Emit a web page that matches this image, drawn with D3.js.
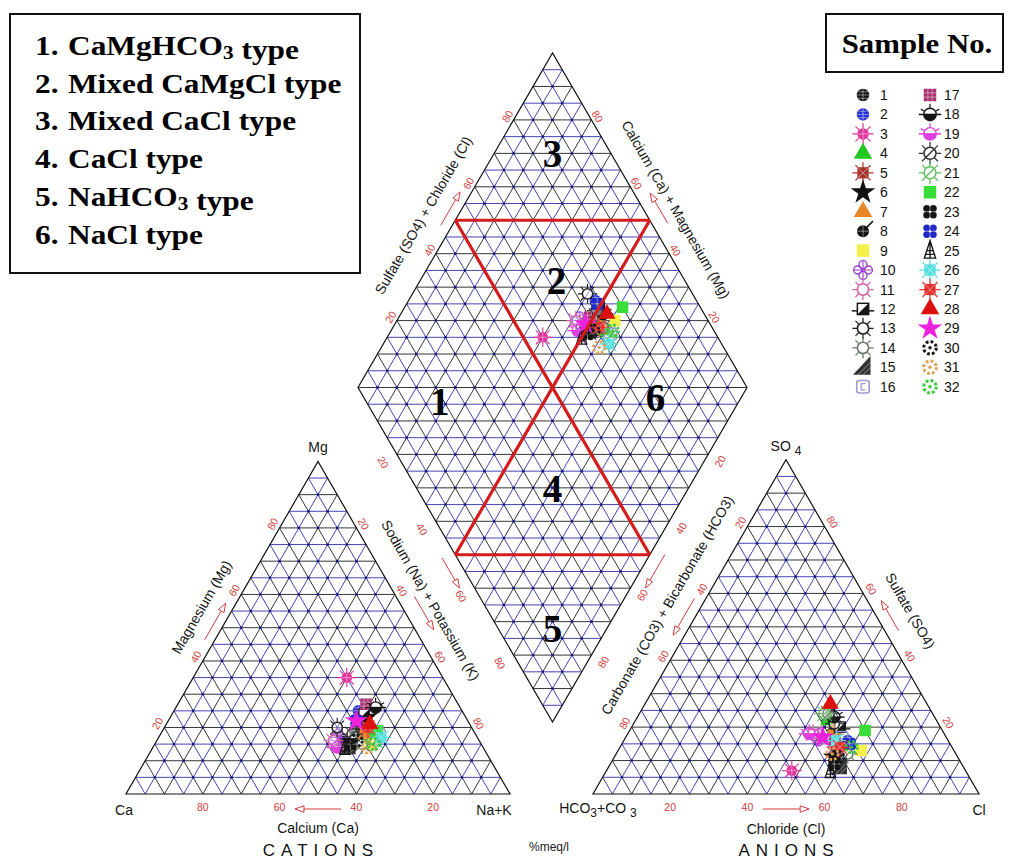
<!DOCTYPE html>
<html lang="en">
<head>
<meta charset="utf-8">
<script src="https://d3js.org/d3.v7.min.js"></script>
<style type="text/css">
body { margin: 0; background: #fff; }
svg { display: block; font-family: "Liberation Sans", Arial, sans-serif; }
.tick { fill: #d23c3c; font-size: 10.5px; }
.title { fill: #151515; font-size: 14px; }
.corner { fill: #151515; font-size: 14px; }
.frame { fill: none; stroke: #111; stroke-width: 1.2; }
.zone { fill: none; stroke: #d41c1c; stroke-width: 3.2; }
.zone-num { font-family: "Liberation Serif", "Times New Roman", serif; font-weight: bold; font-size: 39px; fill: #000; }
.box-text { font-family: "Liberation Serif", "Times New Roman", serif; font-weight: bold; font-size: 28px; fill: #000; }
.legend-num { font-size: 14px; fill: #111; }
</style>
</head>
<body>
<svg id="chart" width="1010" height="859"></svg>
<script type="text/javascript">

// ---- data (percent meq/l) ----
var sampleIds = [1,2,3,4,5,6,7,8,9,10,11,12,13,14,15,16,17,18,19,20,21,22,23,24,25,26,27,28,29,30,31,32];
var mgPct  = [19,25,35,17,21,23,18,16,15,17,16,24,20,15,14,18,27,26,14,18,16,19,15,22,14,17,20,21,22,16,14,15];
var nakPct = [50,48,40,55,52,51,53,49,56,47,46,50,45,54,51,57,49,52,48,50,57,56,51,49,50,58,53,53,49,52,56,57];
var so4Pct = [10,16,7,22,14,11,19,9,13,17,18,20,21,12,8,17,15,23,18,24,24,19,9,15,7,16,14,27,17,11,12,14];
var clPct  = [58,58,48,50,56,57,53,59,63,50,48,54,52,60,60,56,55,51,47,49,48,61,58,59,58,55,57,48,51,58,56,60];

var tickValues = [20,40,60,80];
var waterTypes = ["CaMgHCO_3 type", "Mixed CaMgCl type", "Mixed CaCl type", "CaCl type", "NaHCO_3 type", "NaCl type"];
var zoneNames = ["1","2","3","4","5","6"];
// zone boundaries in diamond units [Ca+Mg, SO4+Cl]
var zoneLines = [[[100,50],[50,100]], [[100,50],[0,50]], [[50,100],[50,0]], [[50,0],[0,50]]];

// ---- marker look per sample ----
var markerStyle = [
	["circleCross","#151515"],["circleCross","#2530d0"],["sun","#e0359c"],["triangle","#22c822"],
	["squareRays","#a8352e"],["star","#111"],["triangle","#e8872a"],["circleSlash","#151515"],
	["square","#f4f04a"],["flower","#9a3fd0"],["circleRays","#d862a8"],["squareHalf","#151515"],
	["circleRays","#222"],["circleRays","#667766"],["rightTri","#333"],["openSquare","#9a9ad4"],
	["gridSquare","#a8306e"],["semi","#151515"],["semi","#e040e0"],["circleSlashRays","#333"],
	["circleSlashRays","#5cbf5c"],["square","#39dd39"],["quatrefoil","#151515"],["quatrefoil","#2028c8"],
	["tower","#151515"],["squareRays","#55dede"],["squareRays","#e33030"],["triangle","#dd1010"],
	["star","#ee22dd"],["dashedCircle","#151515"],["dashedCircle","#e0a050"],["dashedCircle","#33cc33"]
];

var svg = d3.select("#chart");
svg.append("rect").attr("width", 1010).attr("height", 859).attr("fill", "#fff");

var c30 = Math.sqrt(3) / 2;

// cation triangle: Ca left, Na+K right, Mg top
var catX = d3.scaleLinear().domain([0,100]).range([126,510]);
var catY = d3.scaleLinear().domain([0,100]).range([794,461.4]);
function catXY(mg, nak) { return [catX(nak + mg / 2), catY(mg)]; }

// anion triangle: HCO3 left, Cl right, SO4 top
var anX = d3.scaleLinear().domain([0,100]).range([593,979]);
var anY = d3.scaleLinear().domain([0,100]).range([794,459.7]);
function anXY(so4, cl) { return [anX(cl + so4 / 2), anY(so4)]; }

// diamond: Ca+Mg and SO4+Cl
var diaX = d3.scaleLinear().domain([-100,100]).range([358,747]);
var diaY = d3.scaleLinear().domain([0,200]).range([722,53]);
function diaXY(cm, sc) { return [diaX(sc - cm), diaY(cm + sc)]; }

// ---- grids ----
function triLines(toXY) {
	var out = [];
	d3.range(5,100,5).forEach(function(k) {
		var major = k % 10 === 0;
		out.push({a: toXY(k,0), b: toXY(k,100-k), major: major});
		out.push({a: toXY(0,k), b: toXY(100-k,k), major: major});
		out.push({a: toXY(0,100-k), b: toXY(100-k,0), major: major});
	});
	return out;
}
function triDots(toXY) {
	var out = [];
	for (var i = 5; i < 100; i += 5)
		for (var j = 5; i + j < 100; j += 5) out.push(toXY(i,j));
	return out;
}
function diaLines() {
	var out = [];
	d3.range(5,100,5).forEach(function(k) {
		var major = k % 10 === 0;
		out.push({a: diaXY(k,0), b: diaXY(k,100), major: major});
		out.push({a: diaXY(0,k), b: diaXY(100,k), major: major});
	});
	d3.range(5,200,5).forEach(function(s) {
		var major = s % 10 === 0;
		if (s <= 100) out.push({a: diaXY(s,0), b: diaXY(0,s), major: major});
		else out.push({a: diaXY(100,s-100), b: diaXY(s-100,100), major: major});
	});
	return out;
}
function diaDots() {
	var out = [];
	for (var i = 5; i < 100; i += 5)
		for (var j = 5; j < 100; j += 5) out.push(diaXY(i,j));
	return out;
}
function drawGrid(lines, dots) {
	var g = svg.append("g");
	g.selectAll("line").data(lines).join("line")
		.attr("x1", function(d) { return d.a[0]; }).attr("y1", function(d) { return d.a[1]; })
		.attr("x2", function(d) { return d.b[0]; }).attr("y2", function(d) { return d.b[1]; })
		.attr("stroke", function(d) { return d.major ? "#1e1e1e" : "#3030aa"; })
		.attr("stroke-width", 0.9);
	g.selectAll("circle").data(dots).join("circle")
		.attr("cx", function(d) { return d[0]; }).attr("cy", function(d) { return d[1]; })
		.attr("r", 1.4).attr("fill", "#1a1a88");
}
drawGrid(triLines(catXY), triDots(catXY));
drawGrid(triLines(anXY), triDots(anXY));
drawGrid(diaLines(), diaDots());

var line = d3.line();
svg.append("path").attr("class","frame").attr("d", line([catXY(0,0), catXY(0,100), catXY(100,0)]) + "Z");
svg.append("path").attr("class","frame").attr("d", line([anXY(0,0), anXY(0,100), anXY(100,0)]) + "Z");
svg.append("path").attr("class","frame").attr("d", line([diaXY(0,0), diaXY(100,0), diaXY(100,100), diaXY(0,100)]) + "Z");

// ---- edges: point at value k, outward normal, text rotation ----
var edges = {
	cBase:  {pt: function(k) { return catXY(0,100-k); }, n: [0,1], rot: 0},
	cLeft:  {pt: function(k) { return catXY(k,0); }, n: [-c30,-0.5], rot: -60},
	cRight: {pt: function(k) { return catXY(100-k,k); }, n: [c30,-0.5], rot: 60},
	aBase:  {pt: function(k) { return anXY(0,k); }, n: [0,1], rot: 0},
	aLeft:  {pt: function(k) { return anXY(100-k,0); }, n: [-c30,-0.5], rot: -60},
	aRight: {pt: function(k) { return anXY(k,100-k); }, n: [c30,-0.5], rot: 60},
	dUL:    {pt: function(k) { return diaXY(100,k); }, n: [-c30,-0.5], rot: -60},
	dUR:    {pt: function(k) { return diaXY(k,100); }, n: [c30,-0.5], rot: 60},
	dLL:    {pt: function(k) { return diaXY(100-k,0); }, n: [-c30,0.5], rot: 60},
	dLR:    {pt: function(k) { return diaXY(0,100-k); }, n: [c30,0.5], rot: -60}
};
function off(edge, k, d) {
	var e = edges[edge], p = e.pt(k);
	return [p[0] + e.n[0] * d, p[1] + e.n[1] * d];
}

// tick labels
var labelOffset = {cBase:13, cLeft:8, cRight:8, aBase:13, aLeft:8, aRight:9, dUL:7, dUR:7, dLL:16, dLR:14};
Object.keys(labelOffset).forEach(function(name) {
	svg.append("g").selectAll("text").data(tickValues).join("text")
		.attr("class","tick")
		.attr("text-anchor","middle").attr("dy","0.35em")
		.attr("transform", function(k) {
			var p = off(name, k, labelOffset[name]);
			return "translate(" + p[0] + "," + p[1] + ") rotate(" + edges[name].rot + ")";
		})
		.text(function(k) { return k; });
});

// arrows
function arrow(p1, p2) {
	var dx = p2[0]-p1[0], dy = p2[1]-p1[1], L = Math.hypot(dx,dy), ux = dx/L, uy = dy/L;
	var hl = 9, hw = 3.2, b = [p2[0]-ux*hl, p2[1]-uy*hl];
	svg.append("line").attr("x1",p1[0]).attr("y1",p1[1]).attr("x2",b[0]).attr("y2",b[1])
		.attr("stroke","#d23c3c").attr("stroke-width",1);
	svg.append("path")
		.attr("d","M"+(b[0]-uy*hw)+","+(b[1]+ux*hw)+"L"+p2[0]+","+p2[1]+"L"+(b[0]+uy*hw)+","+(b[1]-ux*hw)+"Z")
		.attr("fill","#fff").attr("stroke","#d23c3c").attr("stroke-width",1);
}
[["cBase",44,56,15],["cLeft",45,56,9],["cRight",43,53,16],["aBase",44,56,15],["aLeft",43,54,10],
 ["aRight",47,56,12],["dUL",47,57,10],["dUR",47,56,14],["dLL",49,58,13],["dLR",48,58,13]].forEach(function(a) {
	arrow(off(a[0],a[1],a[3]), off(a[0],a[2],a[3]));
});

// edge titles
[["cBase",50,34,"Calcium (Ca)"],["cLeft",52,28,"Magnesium (Mg)"],["cRight",46,28,"Sodium (Na) + Potassium (K)"],
 ["aBase",50,35,"Chloride (Cl)"],["aLeft",48,30,"Carbonate (CO3) + Bicarbonate (HCO3)"],["aRight",50,32,"Sulfate (SO4)"],
 ["dUL",47,30,"Sulfate (SO4) + Chloride (Cl)"],["dUR",49,28,"Calcium (Ca) + Magnesium (Mg)"]].forEach(function(t) {
	var p = off(t[0], t[1], t[2]);
	svg.append("text").attr("class","title").attr("text-anchor","middle").attr("dy","0.35em")
		.attr("transform","translate(" + p[0] + "," + p[1] + ") rotate(" + edges[t[0]].rot + ")")
		.text(t[3]);
});

// corner labels
function corner(p, dx, dy, parts) {
	var t = svg.append("text").attr("class","corner").attr("text-anchor","middle")
		.attr("x", p[0] + dx).attr("y", p[1] + dy);
	parts.forEach(function(s) {
		if (s[0] === "_") t.append("tspan").attr("font-size","12px").attr("dy",4).text(s.slice(1));
		else if (s[0] === "^") t.append("tspan").attr("dy",-4).text(s.slice(1));
		else t.append("tspan").text(s);
	});
}
corner(catXY(100,0), 0, -9, ["Mg"]);
corner(catXY(0,0), -2, 21, ["Ca"]);
corner(catXY(0,100), -16, 21, ["Na+K"]);
corner(anXY(100,0), 0, -9, ["SO ", "_4"]);
corner(anXY(0,0), 5, 19, ["HCO", "_3", "^+CO ", "_3"]);
corner(anXY(0,100), 0, 21, ["Cl"]);

svg.append("text").attr("x", catX(50) + 3).attr("y", 856).attr("text-anchor","middle")
	.attr("font-size","17px").attr("letter-spacing","6px").attr("fill","#111").text("CATIONS");
svg.append("text").attr("x", anX(50) + 3).attr("y", 856).attr("text-anchor","middle")
	.attr("font-size","17px").attr("letter-spacing","6px").attr("fill","#111").text("ANIONS");
svg.append("text").attr("x", 549).attr("y", 851).attr("text-anchor","middle")
	.attr("font-size","12px").attr("fill","#222").text("%meq/l");

// ---- markers ----
function marker(g, shape, col) {
	function rays(r0, r1, n, angles) {
		var a = angles || d3.range(n).map(function(i) { return i * 360 / n; });
		var d = a.map(function(deg) {
			var r = deg * Math.PI / 180;
			return "M" + (r0*Math.cos(r)) + "," + (r0*Math.sin(r)) + "L" + (r1*Math.cos(r)) + "," + (r1*Math.sin(r));
		}).join("");
		g.append("path").attr("d", d).attr("stroke", col).attr("stroke-width", 1).attr("fill","none");
	}
	function hatch(d) {
		g.append("path").attr("d", d).attr("stroke","#fff").attr("stroke-opacity",0.45).attr("stroke-width",0.8).attr("fill","none");
	}
	switch (shape) {
	case "circleCross":
		g.append("circle").attr("r",5).attr("fill",col);
		hatch("M-5,0H5M0,-5V5M-4,-2.6H4M-4,2.6H4");
		break;
	case "sun":
		rays(4.5, 8.5, 8);
		g.append("circle").attr("r",4.6).attr("fill",col);
		hatch("M-4,0H4M0,-4V4");
		break;
	case "triangle":
		g.append("path").attr("d", d3.symbol(d3.symbolTriangle, 95)()).attr("fill",col);
		break;
	case "squareRays":
		rays(4, 8.5, 8);
		g.append("rect").attr("x",-4.5).attr("y",-4.5).attr("width",9).attr("height",9).attr("fill",col);
		hatch("M-4.5,-4.5L4.5,4.5M-4.5,4.5L4.5,-4.5");
		break;
	case "star":
		g.append("path").attr("d", d3.symbol(d3.symbolStar, 120)()).attr("fill",col);
		break;
	case "circleSlash":
		g.append("circle").attr("r",4.8).attr("fill",col);
		hatch("M-4.5,0H4.5M0,-4.5V4.5");
		g.append("path").attr("d","M2,-2L8,-8").attr("stroke",col).attr("stroke-width",1.2);
		break;
	case "square":
		g.append("rect").attr("x",-5).attr("y",-5).attr("width",10).attr("height",10).attr("fill",col);
		break;
	case "flower":
		[[4.3,0],[-4.3,0],[0,4.3],[0,-4.3]].forEach(function(o) {
			g.append("circle").attr("cx",o[0]).attr("cy",o[1]).attr("r",3.2).attr("fill","none").attr("stroke",col).attr("stroke-width",1.1);
		});
		g.append("path").attr("d","M-7,0H7M0,-7V7").attr("stroke",col).attr("stroke-width",0.9);
		break;
	case "circleRays":
		rays(4.8, 8.5, 8);
		g.append("circle").attr("r",4.5).attr("fill","#fff").attr("fill-opacity",0.4).attr("stroke",col).attr("stroke-width",1.3);
		break;
	case "squareHalf":
		g.append("path").attr("d","M-9,1.5H9").attr("stroke",col).attr("stroke-width",1.2);
		g.append("rect").attr("x",-4.5).attr("y",-4.5).attr("width",9).attr("height",9).attr("fill","#fff").attr("stroke",col).attr("stroke-width",1.2);
		g.append("path").attr("d","M-4.5,4.5L4.5,-4.5V4.5Z").attr("fill",col);
		break;
	case "rightTri":
		g.append("path").attr("d","M-8,6H6V-9Z").attr("fill",col);
		hatch("M-4,6L6,-4M0,6L6,0");
		break;
	case "openSquare":
		g.append("rect").attr("x",-5).attr("y",-5).attr("width",10).attr("height",10).attr("rx",2)
			.attr("fill","none").attr("stroke",col).attr("stroke-width",1.3);
		g.append("path").attr("d","M2,-2.5H-1.5V2.5H2").attr("fill","none").attr("stroke",col).attr("stroke-width",1);
		break;
	case "gridSquare":
		g.append("rect").attr("x",-5).attr("y",-5).attr("width",10).attr("height",10).attr("fill",col);
		hatch("M-5,-1.7H5M-5,1.7H5M-1.7,-5V5M1.7,-5V5");
		break;
	case "semi":
		rays(5, 8.5, 0, [-30,-90,-150]);
		g.append("circle").attr("r",5).attr("fill","none").attr("stroke",col).attr("stroke-width",1.1);
		g.append("path").attr("d","M-5,0A5,5 0 0 0 5,0Z").attr("fill",col);
		g.append("path").attr("d","M-9,0H9").attr("stroke",col).attr("stroke-width",1.2);
		break;
	case "circleSlashRays":
		rays(5, 9, 8);
		g.append("circle").attr("r",4.8).attr("fill","#fff").attr("fill-opacity",0.4).attr("stroke",col).attr("stroke-width",1.2);
		g.append("path").attr("d","M-3.4,3.4L3.4,-3.4").attr("stroke",col).attr("stroke-width",1.1);
		break;
	case "quatrefoil":
		[[2.6,2.6],[-2.6,2.6],[2.6,-2.6],[-2.6,-2.6]].forEach(function(o) {
			g.append("circle").attr("cx",o[0]).attr("cy",o[1]).attr("r",2.8).attr("fill",col);
		});
		hatch("M-5,0H5M0,-5V5");
		break;
	case "tower":
		g.append("path").attr("d","M0,-8L-4.5,6H4.5ZM-2.6,0H2.6M-3.5,3H3.5M0,-8V6")
			.attr("fill","none").attr("stroke",col).attr("stroke-width",1.1);
		break;
	case "dashedCircle":
		g.append("circle").attr("r",5).attr("fill","none").attr("stroke",col).attr("stroke-width",2.4)
			.attr("stroke-dasharray","2.2,1.7");
		g.append("circle").attr("r",1.4).attr("fill",col);
		break;
	}
}

var samples = sampleIds.map(function(id, i) {
	var d = {id: id, mg: mgPct[i], nak: nakPct[i], so4: so4Pct[i], cl: clPct[i]};
	d.cat = catXY(d.mg, d.nak);
	d.an = anXY(d.so4, d.cl);
	d.dia = diaXY(100 - d.nak, d.so4 + d.cl);
	return d;
});

["cat","an","dia"].forEach(function(key) {
	svg.append("g").selectAll("g").data(samples).join("g")
		.attr("transform", function(d) { return "translate(" + d[key][0] + "," + d[key][1] + ") scale(1.15)"; })
		.each(function(d) { marker(d3.select(this), markerStyle[d.id-1][0], markerStyle[d.id-1][1]); });
});

// zone boundaries and numbers
svg.append("g").selectAll("path").data(zoneLines).join("path")
	.attr("class","zone")
	.attr("d", function(z) { return line(z.map(function(p) { return diaXY(p[0], p[1]); })); });

var zonePos = [[77,19],[65,67],[85,85],[35,35],[14,14],[22,75]];
svg.append("g").selectAll("text").data(zoneNames).join("text")
	.attr("class","zone-num").attr("text-anchor","middle").attr("dy","0.35em")
	.attr("x", function(d, i) { return diaXY(zonePos[i][0], zonePos[i][1])[0]; })
	.attr("y", function(d, i) { return diaXY(zonePos[i][0], zonePos[i][1])[1]; })
	.text(function(d) { return d; });

// ---- water type box ----
svg.append("rect").attr("x",10).attr("y",14).attr("width",350).attr("height",259)
	.attr("fill","#fff").attr("stroke","#111").attr("stroke-width",2);
waterTypes.forEach(function(name, i) {
	var y = 55 + i * 37.7;
	svg.append("text").attr("class","box-text").attr("transform","translate(35," + y + ") scale(1.12,1)")
		.text((i + 1) + ".");
	var t = svg.append("text").attr("class","box-text").attr("transform","translate(68," + y + ") scale(1.12,1)");
	name.split(/(_\d)/).forEach(function(part) {
		if (!part) return;
		if (part[0] === "_") {
			t.append("tspan").attr("font-size","19px").attr("dy",4).text(part.slice(1));
			t.append("tspan").attr("dy",-4).text("");
		} else t.append("tspan").text(part);
	});
});

// ---- sample legend ----
svg.append("rect").attr("x",826).attr("y",14).attr("width",177).attr("height",58)
	.attr("fill","#fff").attr("stroke","#111").attr("stroke-width",2);
svg.append("text").attr("class","box-text").attr("text-anchor","middle")
	.attr("transform","translate(917,53) scale(1.1,1)").text("Sample No.");

var leg = svg.append("g").selectAll("g").data(sampleIds).join("g")
	.attr("transform", function(id, i) {
		var col = Math.floor(i / 16), row = i % 16;
		return "translate(" + (863 + col * 67) + "," + (95 + row * 19.45) + ")";
	});
leg.append("g").attr("transform","scale(1.25)")
	.each(function(id) { marker(d3.select(this), markerStyle[id-1][0], markerStyle[id-1][1]); });
leg.append("text").attr("class","legend-num").attr("x", function(id) { return id > 16 ? 14 : 17; })
	.attr("dy","0.36em").text(function(id) { return id; });

</script>
</body>
</html>
